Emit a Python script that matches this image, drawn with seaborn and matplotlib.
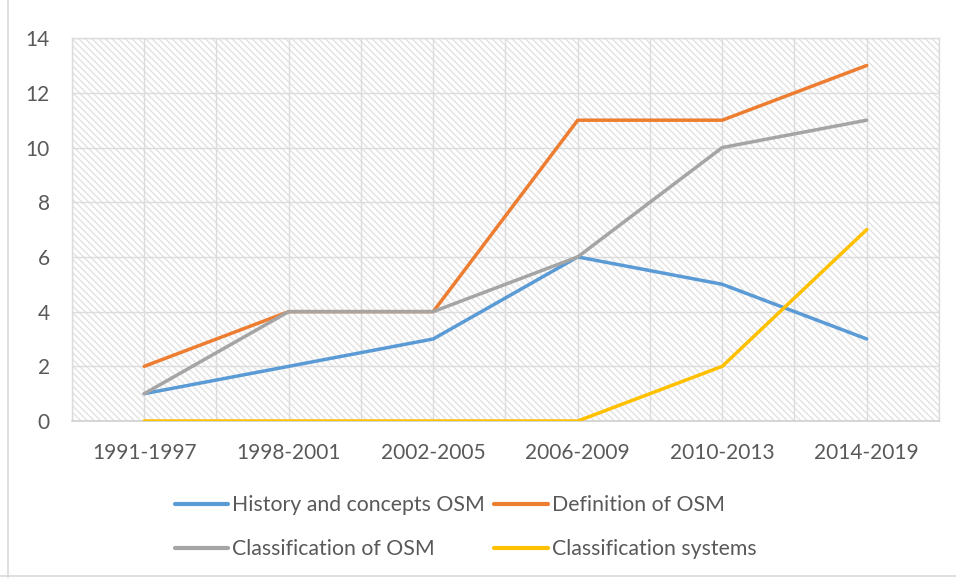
import matplotlib
matplotlib.use("Agg")
import matplotlib.pyplot as plt
import seaborn as sns
import pandas as pd
import numpy as np
from matplotlib.patches import Rectangle
from matplotlib.lines import Line2D

periods = ["1991-1997", "1998-2001", "2002-2005", "2006-2009", "2010-2013", "2014-2019"]
history = [1, 2, 3, 6, 5, 3]
definition = [2, 4, 4, 11, 11, 13]
classification = [1, 4, 4, 6, 10, 11]
systems = [0, 0, 0, 0, 2, 7]
series_names = ["History and concepts OSM", "Definition of OSM",
                "Classification of OSM", "Classification systems"]
colors = ["#5B9BD5", "#ED7D31", "#A5A5A5", "#FFC000"]
yticks = [0, 2, 4, 6, 8, 10, 12, 14]

sns.set_theme(style="white")
plt.rcParams["font.family"] = ["Lato", "DejaVu Sans"]
plt.rcParams["hatch.linewidth"] = 1.0

rows = []
for name, vals in zip(series_names, [history, definition, classification, systems]):
    for i, (p, v) in enumerate(zip(periods, vals)):
        rows.append({"idx": i, "period": p, "value": v, "series": name})
df = pd.DataFrame(rows)

fig = plt.figure(figsize=(9.56, 5.78), dpi=100)
ax = fig.add_axes([0.0753, 0.2716, 0.9069, 0.6624])

# hatched background
ax.add_patch(Rectangle((0, 0), 1, 1, transform=ax.transAxes, facecolor="white",
                       edgecolor="#E2E2E2", hatch="\\\\\\\\\\", linewidth=0, zorder=0))

sns.lineplot(data=df, x="idx", y="value", hue="series", hue_order=series_names,
             palette=colors, linewidth=2.5, ax=ax, legend=False, zorder=3)
for ln in ax.get_lines():
    ln.set_solid_capstyle("round")
    ln.set_solid_joinstyle("round")

ax.set_xlim(-0.5, len(periods) - 0.5)
ax.set_ylim(0, 14)
ax.set_xticks(range(len(periods)))
ax.set_xticklabels(periods)
ax.set_xticks(np.arange(-0.5, len(periods), 1.0), minor=True)
ax.set_yticks(yticks)
ax.set_xlabel("")
ax.set_ylabel("")
ax.grid(True, which="major", axis="both", color="#DCDCDC", linewidth=1.0, zorder=1)
ax.grid(True, which="minor", axis="x", color="#DCDCDC", linewidth=1.0, zorder=1)
ax.set_axisbelow(True)
ax.tick_params(axis="both", which="both", length=0, labelsize=15, labelcolor="#595959")
ax.tick_params(axis="x", pad=16)
ax.tick_params(axis="y", pad=16)
for s in ["top", "right", "left"]:
    ax.spines[s].set_color("#DCDCDC")
    ax.spines[s].set_linewidth(1.0)
ax.spines["bottom"].set_color("#D0D0D0")
ax.spines["bottom"].set_linewidth(1.2)

handles = [Line2D([0], [0], color=c, linewidth=3, solid_capstyle="round") for c in colors]
order = [0, 2, 1, 3]
leg = fig.legend([handles[i] for i in order], [series_names[i] for i in order],
                 loc="center", bbox_to_anchor=(0.487, 0.088),
                 ncol=2, frameon=False, fontsize=15.3, handlelength=2.5,
                 handletextpad=0.2, columnspacing=0.45, labelspacing=1.12)
for t in leg.get_texts():
    t.set_color("#595959")

# chart border (left and bottom visible)
fig.add_artist(Line2D([0.008, 0.008], [0, 1], transform=fig.transFigure,
                      color="#D9D9D9", linewidth=1.2))
fig.add_artist(Line2D([0, 1], [0.003, 0.003], transform=fig.transFigure,
                      color="#D9D9D9", linewidth=1.2))

fig.savefig("out.png", dpi=100)
